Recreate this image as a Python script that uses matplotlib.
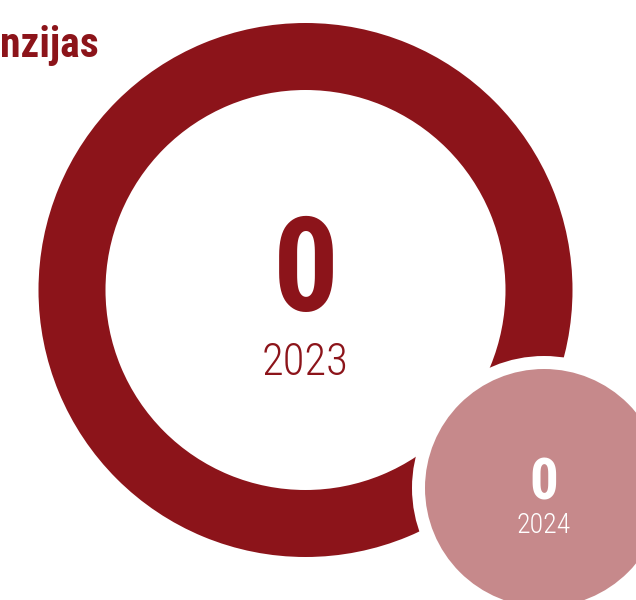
import matplotlib
matplotlib.use("Agg")
import matplotlib.pyplot as plt
from matplotlib import font_manager
from matplotlib.patches import Wedge, Circle

# data
years = ["2023", "2024"]
counts = [0, 0]
title = "nzijas"

DARK = "#8c141a"
PINK = "#c6898b"

installed = {f.name for f in font_manager.fontManager.ttflist}
font = "DejaVu Sans"
for name in ["Roboto Condensed", "Liberation Sans Narrow", "Open Sans Condensed", "DejaVu Sans"]:
    if name in installed:
        font = name
        break

fig = plt.figure(figsize=(6.36, 6.00), dpi=100)
ax = fig.add_axes([0, 0, 1, 1])
ax.set_xlim(0, 636)
ax.set_ylim(600, 0)
ax.set_aspect("equal")
ax.axis("off")

# big ring for the first year
ax.add_patch(Wedge((305.5, 290), 267, 0, 360, width=67, color=DARK, lw=0))
ax.text(305.5, 311, str(counts[0]), color=DARK, fontsize=94, fontweight="bold",
        family=font, stretch="condensed", ha="center", va="baseline")
ax.text(305.5, 375, years[0], color=DARK, fontsize=32, fontweight="light",
        family=font, stretch="condensed", ha="center", va="baseline")

# small bubble for the second year
ax.add_patch(Circle((544, 488), 132, color="white", lw=0))
ax.add_patch(Circle((544, 488), 119, color=PINK, lw=0))
ax.text(544, 499, str(counts[1]), color="white", fontsize=41, fontweight="bold",
        family=font, stretch="condensed", ha="center", va="baseline")
ax.text(544, 533, years[1], color="white", fontsize=20, fontweight="light",
        family=font, stretch="condensed", ha="center", va="baseline")

ax.text(0, 57, title, color=DARK, fontsize=30, fontweight="bold", family=font,
        stretch="condensed", ha="left", va="baseline")

fig.savefig("out.png", dpi=100)
